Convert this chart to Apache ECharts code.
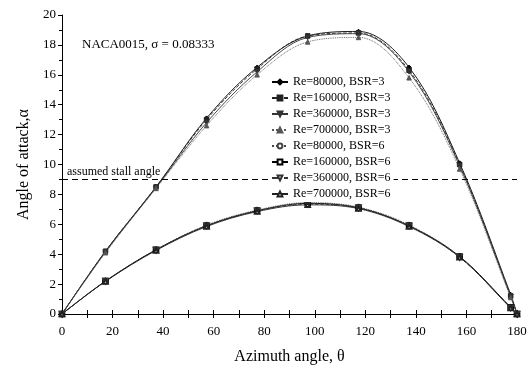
<!DOCTYPE html>
<html>
<head>
<meta charset="utf-8">
<script src="https://cdn.jsdelivr.net/npm/echarts@6/dist/echarts.min.js"></script>
<style>
  html, body { margin: 0; padding: 0; background: #fff; }
  #chart { width: 531px; height: 370px; }
</style>
</head>
<body>
<div id="chart"></div>
<script>
// azimuth angles (deg)
var theta = [0, 17.2, 37.2, 57.2, 77.2, 97.2, 117.3, 137.3, 157.3, 177.5, 180]

// angle of attack, BSR=3
var re80k_bsr3 = [0, 4.2, 8.5, 13.1, 16.5, 18.6, 18.9, 16.5, 10.1, 1.3, 0]
var re160k_bsr3 = [0, 4.2, 8.5, 13.0, 16.4, 18.6, 18.8, 16.3, 10.0, 1.2, 0]
var re360k_bsr3 = [0, 4.15, 8.45, 12.8, 16.2, 18.5, 18.75, 16.2, 9.9, 1.2, 0]
var re700k_bsr3 = [0, 4.1, 8.4, 12.6, 16.0, 18.2, 18.5, 15.8, 9.7, 1.1, 0]

// angle of attack, BSR=6
var re80k_bsr6 = [0, 2.2, 4.3, 5.95, 6.95, 7.45, 7.15, 5.95, 3.85, 0.45, 0]
var re160k_bsr6 = [0, 2.2, 4.3, 5.9, 6.9, 7.4, 7.1, 5.9, 3.85, 0.45, 0]
var re360k_bsr6 = [0, 2.2, 4.28, 5.9, 6.9, 7.35, 7.1, 5.9, 3.8, 0.42, 0]
var re700k_bsr6 = [0, 2.18, 4.25, 5.85, 6.85, 7.3, 7.05, 5.85, 3.8, 0.4, 0]

var xTicks = [0, 20, 40, 60, 80, 100, 120, 140, 160, 180]
var stallAngle = 9

var serif = 'Liberation Serif'

function pairs(ys) {
  return theta.map(function(t, i) { return [t, ys[i]] })
}

function line(name, ys, symbol, color, type, rotate) {
  return {
    name: name,
    type: 'line',
    data: pairs(ys),
    smooth: 0.35,
    symbol: symbol,
    symbolSize: 4.5,
    symbolRotate: rotate || 0,
    lineStyle: { color: color, width: 0.9, type: type },
    itemStyle: { color: color, borderColor: color, borderWidth: 1 },
    z: 3
  }
}

var myChart = echarts.init(document.getElementById('chart'))

var series = [
  line('Re=80000, BSR=3', re80k_bsr3, 'diamond', '#000', 'solid'),
  line('Re=160000, BSR=3', re160k_bsr3, 'rect', '#222', 'dashed'),
  line('Re=360000, BSR=3', re360k_bsr3, 'triangle', '#333', 'solid', 180),
  line('Re=700000, BSR=3', re700k_bsr3, 'triangle', '#555', 'dotted'),
  line('Re=80000, BSR=6', re80k_bsr6, 'emptyCircle', '#444', 'dotted'),
  line('Re=160000, BSR=6', re160k_bsr6, 'emptyRect', '#000', 'solid'),
  line('Re=360000, BSR=6', re360k_bsr6, 'emptyTriangle', '#333', 'dashed', 180),
  line('Re=700000, BSR=6', re700k_bsr6, 'emptyTriangle', '#222', 'solid')
]

// stall angle reference line
series[0].markLine = {
  silent: true,
  symbol: 'none',
  label: { show: false },
  lineStyle: { color: '#000', type: [6, 4], width: 1 },
  data: [{ yAxis: stallAngle }]
}

var option = {
  backgroundColor: '#ffffff',
  animation: false,
  textStyle: { fontFamily: serif },
  grid: { left: 62, right: 14, top: 15, bottom: 54 },
  legend: {
    orient: 'vertical',
    left: 268,
    top: 74,
    z: 20,
    padding: [2, 3],
    backgroundColor: '#fff',
    itemGap: 4,
    itemWidth: 16,
    itemHeight: 6,
    textStyle: { fontFamily: serif, fontSize: 12, color: '#000', lineHeight: 12 },
    data: series.map(function(s) { return s.name })
  },
  xAxis: [
    {
      type: 'value',
      min: 0,
      max: 180,
      interval: 20,
      name: 'Azimuth angle, θ',
      nameLocation: 'middle',
      nameGap: 35,
      nameTextStyle: { fontFamily: serif, fontSize: 16, color: '#000' },
      axisLine: { lineStyle: { color: '#000', width: 1 } },
      axisTick: { inside: true, length: 4, lineStyle: { color: '#000' } },
      minorTick: { show: true, splitNumber: 2, length: 4, lineStyle: { color: '#000' } },
      axisLabel: {
        fontFamily: serif, fontSize: 13, color: '#000', margin: 11,
        formatter: function(v) { return xTicks.indexOf(v) >= 0 ? v : '' }
      },
      splitLine: { show: false }
    },
    {
      type: 'value',
      position: 'top',
      min: 0,
      max: 180,
      interval: 20,
      axisLine: { lineStyle: { color: '#000', width: 1 } },
      axisTick: { inside: true, length: 4, lineStyle: { color: '#000' } },
      minorTick: { show: true, splitNumber: 2, length: 4, lineStyle: { color: '#000' } },
      axisLabel: { show: false },
      splitLine: { show: false }
    }
  ],
  yAxis: [
    {
      type: 'value',
      min: 0,
      max: 20,
      interval: 2,
      name: 'Angle of attack,α',
      nameLocation: 'middle',
      nameGap: 22,
      nameTextStyle: { fontFamily: serif, fontSize: 16, color: '#000' },
      axisLine: { show: false },
      axisTick: { show: true, length: 4, lineStyle: { color: '#000' } },
      minorTick: { show: true, splitNumber: 2, length: 2, lineStyle: { color: '#000' } },
      axisLabel: { fontFamily: serif, fontSize: 13, color: '#000', margin: 6 },
      splitLine: { show: false }
    },
    {
      type: 'value',
      position: 'right',
      min: 0,
      max: 20,
      interval: 2,
      axisLine: { show: true, lineStyle: { color: '#000', width: 1 } },
      axisTick: { inside: true, length: 4, lineStyle: { color: '#000' } },
      minorTick: { show: true, splitNumber: 2, length: 3, lineStyle: { color: '#000' } },
      axisLabel: { show: false },
      splitLine: { show: false }
    }
  ],
  graphic: [
    {
      type: 'text',
      left: 82,
      top: 38,
      style: { text: 'NACA0015, σ = 0.08333', font: '13px "Liberation Serif"', fill: '#000' }
    },
    {
      type: 'text',
      left: 67,
      top: 166,
      style: { text: 'assumed stall angle', font: '12px "Liberation Serif"', fill: '#000' }
    }
  ],
  series: series
}

myChart.setOption(option)
</script>
</body>
</html>
